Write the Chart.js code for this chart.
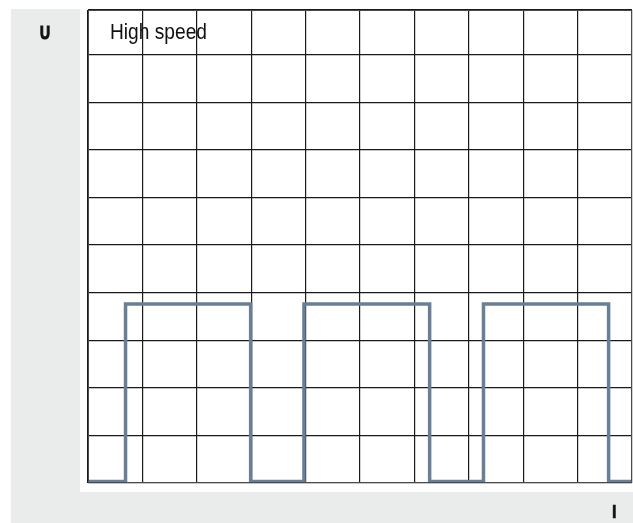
<!DOCTYPE html>
<html>
<head>
<meta charset="utf-8">
<script src="https://cdn.jsdelivr.net/npm/chart.js@4/dist/chart.umd.min.js"></script>
<style>
  html, body { margin: 0; padding: 0; background: #ffffff; }
  #wrap { position: relative; width: 633px; height: 523px; }
</style>
</head>
<body>
<div id="wrap"><canvas id="c" width="633" height="523"></canvas></div>
<script>
// Square-wave trace on an oscilloscope-style grid
const edgeTimes = [0, 0.69, 2.99, 3.97, 6.28, 7.27, 9.57, 10];   // grid divisions
const levels    = [0.03, 3.76, 0.03, 3.76, 0.03, 3.76, 0.03, 0.03];
const titleText = 'High speed';
const yAxisLabel = 'U';
const xAxisLabel = 'I';

const points = edgeTimes.map((t, i) => ({ x: t, y: levels[i] }));

// Draws text condensed horizontally to a given width (narrow face look)
function condensedText(ctx, text, x, y, font, width, heavy) {
  ctx.save();
  ctx.font = font;
  const w = ctx.measureText(text).width;
  const s = Math.min(1, width / w);
  ctx.translate(x, y);
  ctx.scale(s, 1);
  ctx.fillText(text, 0, 0);
  if (heavy) {
    ctx.strokeStyle = ctx.fillStyle;
    ctx.lineWidth = heavy;
    ctx.strokeText(text, 0, 0);
  }
  ctx.restore();
}

const panelPlugin = {
  id: 'panel',
  beforeDraw(chart) {
    const ctx = chart.ctx;
    ctx.save();
    ctx.fillStyle = '#eaebeb';
    ctx.fillRect(11, 9, 622, 514);
    ctx.fillStyle = '#ffffff';
    ctx.fillRect(80, 9, 553, 483);
    ctx.restore();
  },
  afterDraw(chart) {
    const ctx = chart.ctx;
    const a = chart.chartArea;
    ctx.save();
    ctx.strokeStyle = '#4a4a4a';
    ctx.lineWidth = 1;
    ctx.strokeRect(Math.round(a.left) + 0.5, Math.round(a.top) + 0.5,
                   Math.round(a.right - a.left) - 1, Math.round(a.bottom - a.top) - 1);
    ctx.fillStyle = '#111111';
    ctx.textBaseline = 'alphabetic';
    condensedText(ctx, titleText, 110, 38.5, '22px "Liberation Sans", Arial, sans-serif', 97);
    condensedText(ctx, yAxisLabel, 40, 39, 'bold 18px "Liberation Sans", Arial, sans-serif', 10, 1.2);
    condensedText(ctx, xAxisLabel, 612, 518, 'bold 19px "Liberation Sans", Arial, sans-serif', 4.5, 0.6);
    ctx.restore();
  }
};

new Chart(document.getElementById('c'), {
  type: 'line',
  data: {
    datasets: [{
      data: points,
      stepped: true,
      borderColor: '#687f95',
      borderWidth: 3.5,
      pointRadius: 0,
      fill: false,
      tension: 0
    }]
  },
  options: {
    responsive: false,
    animation: false,
    layout: { padding: { left: 88, top: 10, right: 1, bottom: 40 } },
    plugins: { legend: { display: false }, tooltip: { enabled: false } },
    scales: {
      x: {
        type: 'linear', min: 0, max: 10,
        ticks: { display: false, stepSize: 1 },
        grid: { color: '#1a1a1a', lineWidth: 1.2, drawTicks: false },
        border: { display: false }
      },
      y: {
        type: 'linear', min: 0, max: 9.94,
        ticks: { display: false, stepSize: 1 },
        grid: { color: '#1a1a1a', lineWidth: 1.2, drawTicks: false },
        border: { display: false }
      }
    }
  },
  plugins: [panelPlugin]
});
</script>
</body>
</html>
